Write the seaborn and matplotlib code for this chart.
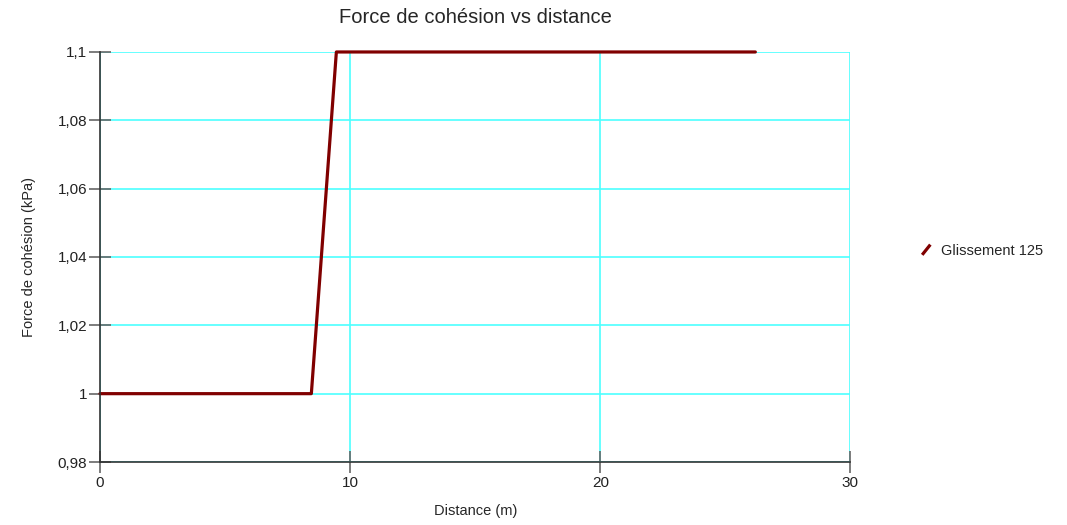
import pandas as pd
import matplotlib
matplotlib.use("Agg")
import matplotlib.pyplot as plt
from matplotlib.ticker import FuncFormatter, MultipleLocator
from matplotlib.legend_handler import HandlerLine2D
from matplotlib.lines import Line2D
import seaborn as sns

# Data
distance = [0, 8.45, 9.45, 26.2]
cohesion = [1.0, 1.0, 1.1, 1.1]
series_name = "Glissement 125"

df = pd.DataFrame({"distance": distance, "cohesion": cohesion, "serie": series_name})

sns.set_style("white")
plt.rcParams["font.family"] = ["Liberation Sans", "DejaVu Sans"]

line_color = "#800000"
grid_color = "#4dffff"


# Diagonal legend marker like the original
class HandlerDiag(HandlerLine2D):
    def create_artists(self, legend, orig_handle, xdescent, ydescent, width, height, fontsize, trans):
        x0 = xdescent * -1 + width * 0.35
        line = Line2D([x0, x0 + height * 0.8], [-ydescent, -ydescent + height],
                      color=orig_handle.get_color(), lw=orig_handle.get_linewidth(),
                      solid_capstyle="butt")
        line.set_transform(trans)
        return [line]


fig = plt.figure(figsize=(10.67, 5.25), dpi=100)
ax = fig.add_axes([0.0937, 0.12, 0.7033, 0.781])

sns.lineplot(data=df, x="distance", y="cohesion", color=line_color, lw=2.3, ax=ax, legend=False)
for ln in ax.get_lines():
    ln.set_clip_on(False)

ax.set_xlim(0, 30)
ax.set_ylim(0.98, 1.1)
ax.xaxis.set_major_locator(MultipleLocator(10))
ax.yaxis.set_major_locator(MultipleLocator(0.02))
ax.yaxis.set_major_formatter(FuncFormatter(lambda v, p: ("%g" % round(v, 4)).replace(".", ",")))

ax.grid(True, color=grid_color, lw=1.2)
ax.set_axisbelow(True)
for s in ["top", "right"]:
    ax.spines[s].set_visible(False)
for s in ["left", "bottom"]:
    ax.spines[s].set_color("#333333")
    ax.spines[s].set_linewidth(1.2)

ax.tick_params(axis="both", bottom=True, left=True, direction="inout", length=16, width=1.2,
               color="#666666", labelsize=11, labelcolor="#222222")
ax.tick_params(axis="x", pad=2)
ax.tick_params(axis="y", pad=1)

ax.set_title("Force de cohésion vs distance", fontsize=14.5, pad=21)
ax.set_xlabel("Distance (m)", fontsize=10.5, labelpad=10)
ax.set_ylabel("Force de cohésion (kPa)", fontsize=10.5, labelpad=16)

handle = Line2D([], [], color=line_color, lw=2.3)
ax.legend([handle], [series_name], handler_map={Line2D: HandlerDiag()},
          loc="center left", bbox_to_anchor=(1.07, 0.515), frameon=False,
          fontsize=10.5, handlelength=1.2, handletextpad=0.5)

fig.savefig("out.png", dpi=100)
